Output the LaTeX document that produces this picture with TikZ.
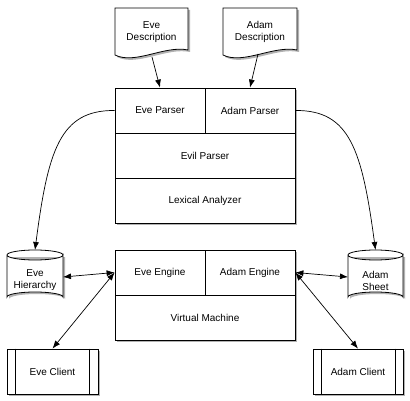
\documentclass[tikz,border=0pt]{standalone}
\usepackage{fontspec}
\setmainfont{Liberation Sans}
\usetikzlibrary{arrows.meta}
\tikzset{
  cell/.style={draw, line width=0.8pt, minimum width=#1, minimum height=45pt, inner sep=0pt, font=\fontsize{10}{12}\selectfont},
  lbl/.style={inner sep=0pt, align=center, font=\fontsize{10}{12}\selectfont},
  shad/.style={fill=black!30},
  conn/.style={line width=0.7pt, -{Latex[length=8pt,width=6pt]}},
  dconn/.style={line width=0.7pt, {Latex[length=8pt,width=6pt]}-{Latex[length=8pt,width=6pt]}},
  outl/.style={draw, line width=0.8pt, fill=white}
}
\begin{document}
\begin{tikzpicture}[x=1pt,y=-1pt]
\useasboundingbox[fill=white] (0,0) rectangle (410,401);
% shadows
\fill[shad] (117,90) rectangle (297,225);
\fill[shad] (117,252) rectangle (297,342);
\fill[shad] (9,351) rectangle (100,396);
\fill[shad] (315,351) rectangle (405,396);
\fill[shad] (117,10) -- (190,10) -- (190,52) .. controls (167,47) and (137,67) .. (117,57) -- cycle;
\fill[shad] (225,10) -- (299,10) -- (299,52) .. controls (276,47) and (245,67) .. (225,57) -- cycle;
\fill[shad] (9,257) -- (9,299) arc[start angle=180,end angle=360,x radius=28,y radius=5] -- (65,257) -- cycle;
\fill[shad] (350,257) -- (350,299) arc[start angle=180,end angle=360,x radius=27.5,y radius=5] -- (405,257) -- cycle;

% documents
\draw[outl] (115,8) -- (188,8) -- (188,50) .. controls (165,45) and (135,65) .. (115,55) -- cycle;
\node[lbl] (eved) at (151.5,32) {Eve\\Description};
\draw[outl] (223,8) -- (297,8) -- (297,50) .. controls (274,45) and (243,65) .. (223,55) -- cycle;
\node[lbl] (adamd) at (260,32) {Adam\\Description};
\coordinate (evedb) at (152,57);
\coordinate (adamdb) at (258,54);

% parser stack
\node[cell=90pt, fill=white] (evep) at (160,110.5) {Eve Parser};
\node[cell=90pt, fill=white] (adamp) at (250,110.5) {Adam Parser};
\node[cell=180pt, fill=white] (evil) at (205,155.5) {Evil Parser};
\node[cell=180pt, fill=white] (lex) at (205,200.5) {Lexical Analyzer};

% engine stack
\node[cell=90pt, fill=white] (evee) at (160,272.5) {Eve Engine};
\node[cell=90pt, fill=white] (adame) at (250,272.5) {Adam Engine};
\node[cell=180pt, fill=white] (vm) at (205,317.5) {Virtual Machine};

% cylinders
\draw[outl] (7,255) -- (7,297) arc[start angle=180,end angle=360,x radius=28,y radius=5] -- (63,255) arc[start angle=0,end angle=180,x radius=28,y radius=5];
\draw[line width=0.8pt] (7,255) arc[start angle=180,end angle=360,x radius=28,y radius=5];
\node[lbl] (eveh) at (35,280.5) {Eve\\Hierarchy};
\coordinate (evehn) at (35,250);
\coordinate (evehe) at (63,277);
\draw[outl] (348,255) -- (348,297) arc[start angle=180,end angle=360,x radius=27.5,y radius=5] -- (403,255) arc[start angle=0,end angle=180,x radius=27.5,y radius=5];
\draw[line width=0.8pt] (348,255) arc[start angle=180,end angle=360,x radius=27.5,y radius=5];
\node[lbl] (adams) at (375.5,280.5) {Adam\\Sheet};
\coordinate (adamsn) at (375.5,250);
\coordinate (adamsw) at (348,277);

% clients
\node[cell=91pt, fill=white] (evec) at (52.5,371.5) {Eve Client};
\draw[line width=0.8pt] ([xshift=9pt]evec.north west) -- ([xshift=9pt]evec.south west);
\draw[line width=0.8pt] ([xshift=-9pt]evec.north east) -- ([xshift=-9pt]evec.south east);
\node[cell=90pt, fill=white] (adamc) at (358,371.5) {Adam Client};
\draw[line width=0.8pt] ([xshift=9pt]adamc.north west) -- ([xshift=9pt]adamc.south west);
\draw[line width=0.8pt] ([xshift=-8pt]adamc.north east) -- ([xshift=-8pt]adamc.south east);

% connectors
\draw[conn] (evedb) -- (evep.north);
\draw[conn] (adamdb) -- (adamp.north);
\draw[conn] (evep.west) .. controls (60,110) and (48,150) .. (evehn);
\draw[conn] (adamp.east) .. controls (350,110) and (362,150) .. (adamsn);
\draw[dconn] (evehe) -- (evee.west);
\draw[dconn] (evec.north) -- (evee.west);
\draw[dconn] (adamsw) -- (adame.east);
\draw[dconn] (adamc.north) -- (adame.east);
\end{tikzpicture}
\end{document}
